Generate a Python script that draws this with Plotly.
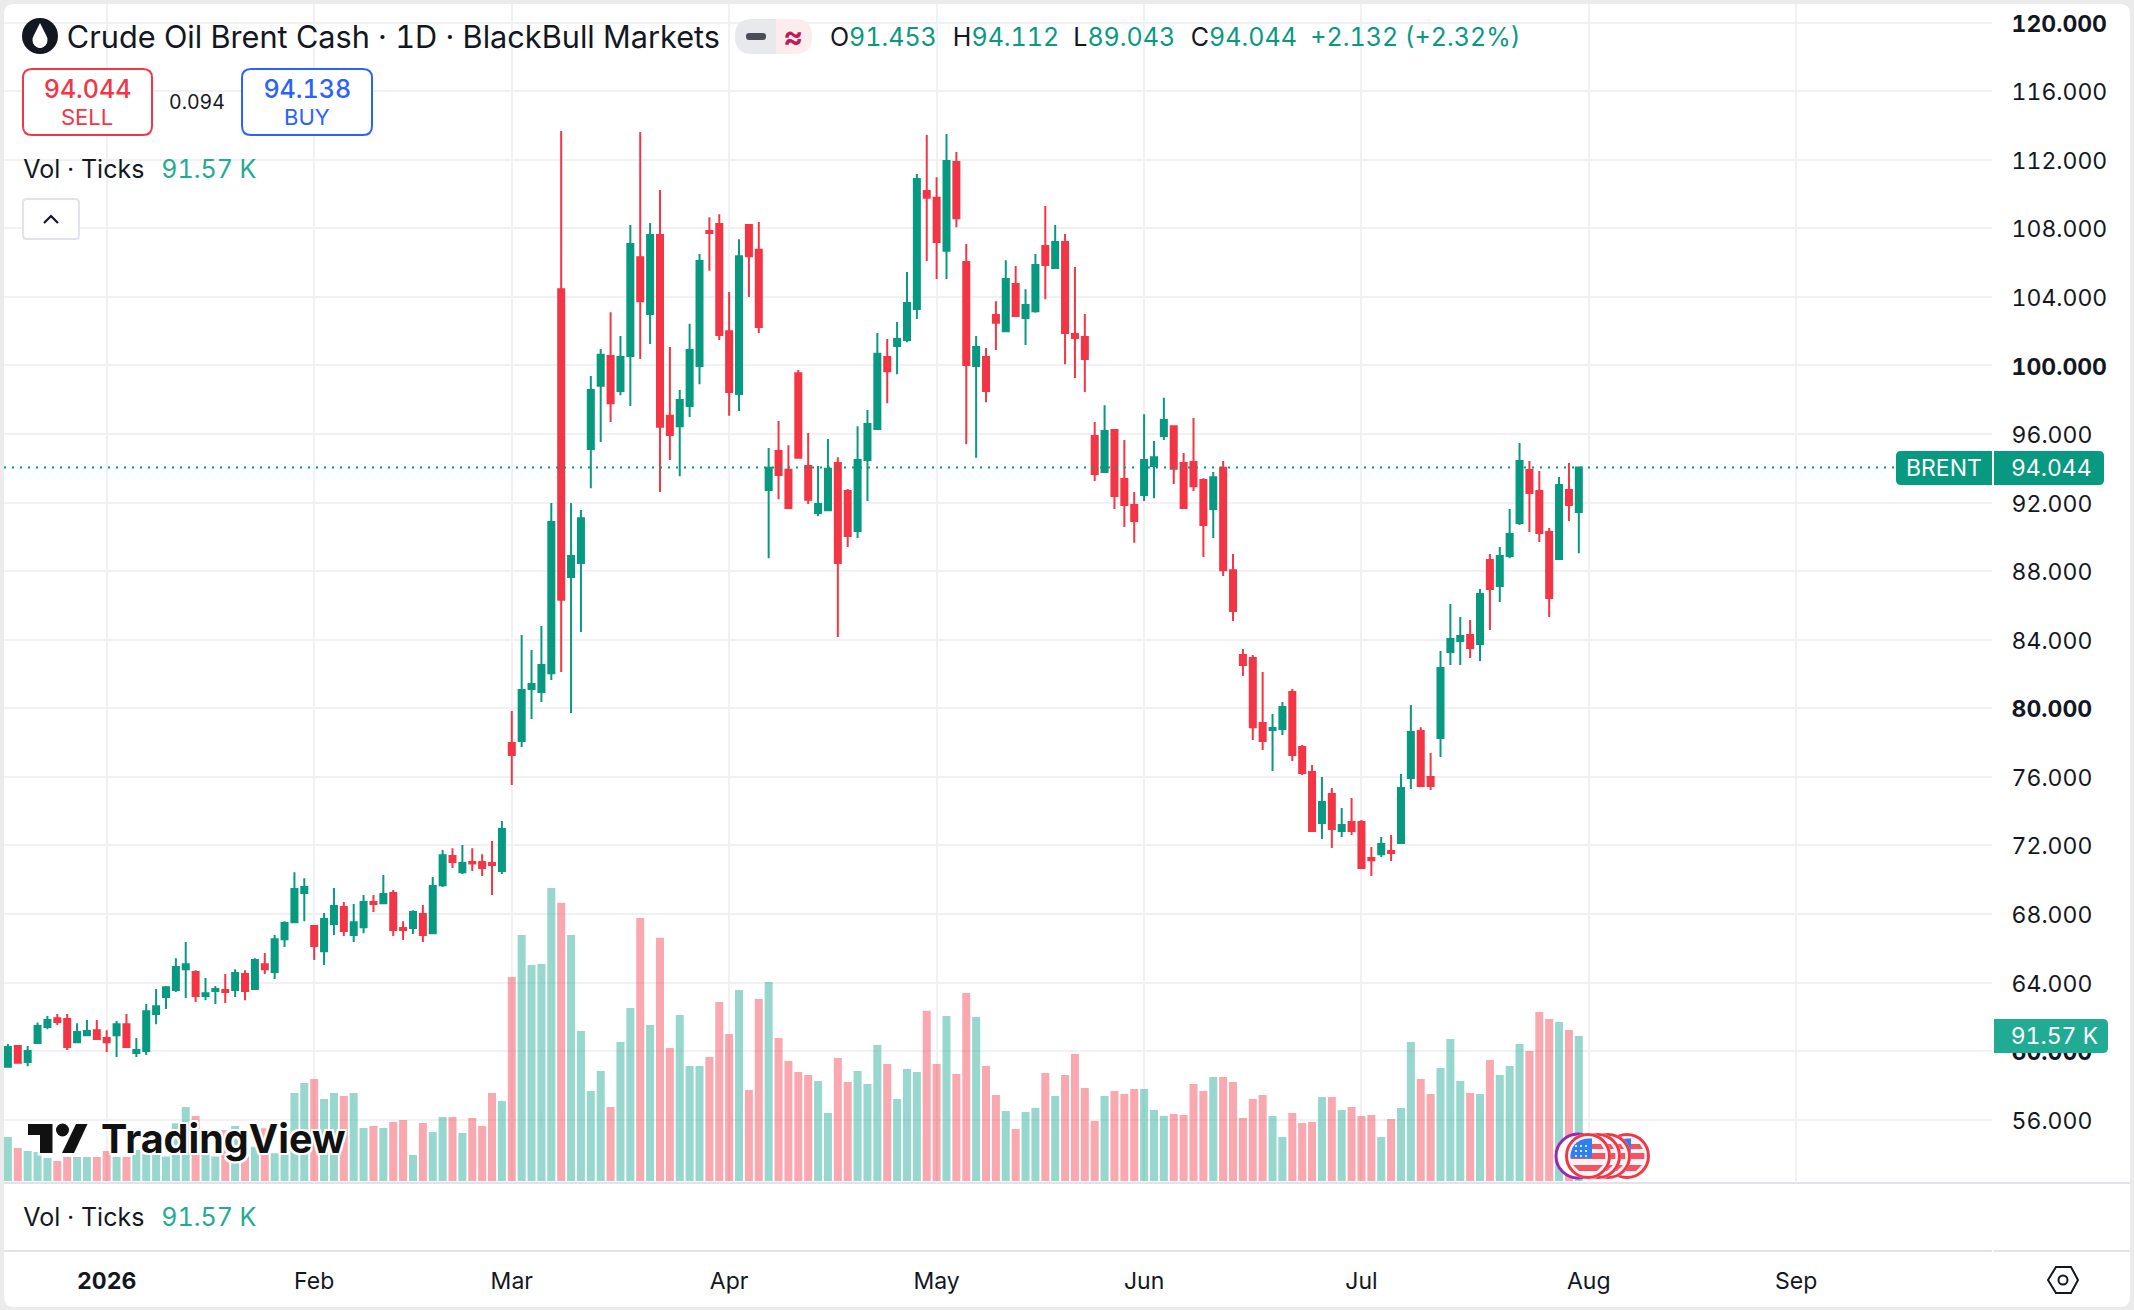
import numpy as np
import plotly.graph_objects as go

W, H = 2134, 1310

opens = [59.08, 60.29, 59.36, 60.47, 61.40, 61.92, 61.87, 60.52, 60.93, 61.22,
         60.76, 60.93, 61.57, 59.88, 60.00, 62.16, 63.15, 63.56, 64.78, 64.61,
         63.21, 63.50, 63.56, 63.56, 64.49, 63.62, 65.07, 64.61, 66.53, 67.52,
         69.22, 67.29, 65.83, 67.41, 68.40, 66.77, 67.23, 68.69, 68.63, 69.22,
         67.18, 67.18, 67.99, 66.88, 69.68, 71.38, 70.44, 71.03, 71.03, 70.97,
         70.50, 77.97, 78.09, 81.12, 80.95, 82.05, 104.45, 87.66, 88.48, 95.13,
         98.81, 100.56, 98.51, 100.56, 106.32, 103.01, 107.61, 97.06, 96.46, 97.64,
         99.97, 107.85, 108.25, 102.00, 98.33, 108.19, 106.75, 92.74, 95.01, 93.91,
         99.55, 94.13, 91.39, 91.56, 94.31, 92.68, 90.35, 94.49, 96.30, 100.50,
         101.14, 101.48, 103.29, 110.18, 109.78, 106.69, 111.87, 106.04, 99.97, 100.50,
         102.95, 102.00, 104.76, 102.77, 103.17, 106.97, 105.68, 107.21, 101.84, 101.66,
         95.88, 93.79, 96.24, 93.38, 91.86, 92.44, 94.13, 95.88, 96.46, 94.31,
         94.37, 93.32, 91.62, 94.03, 88.06, 83.11, 82.93, 79.14, 78.73, 78.79,
         80.95, 77.74, 76.28, 73.30, 75.00, 72.84, 73.36, 73.36, 71.26, 71.49,
         71.67, 72.14, 75.93, 78.67, 75.99, 78.26, 83.28, 83.92, 84.27, 83.75,
         88.65, 87.13, 88.88, 90.81, 93.90, 92.67, 90.28, 88.71, 92.73, 91.453]
highs = [60.41, 60.35, 60.29, 61.67, 62.04, 62.16, 62.16, 61.63, 61.81, 61.81,
         61.22, 61.75, 62.16, 60.76, 62.74, 63.62, 63.79, 65.42, 66.36, 64.72,
         64.26, 63.79, 64.49, 64.78, 64.72, 65.42, 65.72, 66.77, 67.58, 70.44,
         70.09, 67.29, 68.05, 69.51, 68.69, 68.58, 69.10, 69.10, 70.27, 69.39,
         67.58, 68.22, 68.52, 70.15, 71.73, 71.84, 72.02, 71.84, 71.49, 72.25,
         73.42, 79.84, 84.27, 83.40, 84.80, 91.98, 113.68, 91.98, 91.57, 99.39,
         100.96, 103.11, 101.72, 108.19, 113.62, 108.31, 110.24, 101.08, 98.57, 102.43,
         106.50, 108.65, 108.83, 104.29, 107.37, 108.25, 108.37, 95.19, 96.76, 95.35,
         99.73, 96.06, 94.13, 95.71, 94.65, 92.80, 96.46, 97.40, 101.90, 101.54,
         102.53, 105.46, 111.17, 113.44, 110.98, 113.50, 112.45, 107.09, 101.72, 101.02,
         103.75, 106.14, 105.80, 104.45, 106.50, 109.30, 108.19, 107.67, 105.74, 103.01,
         96.70, 97.68, 96.24, 95.65, 92.62, 97.16, 95.59, 98.11, 96.46, 94.89,
         96.94, 93.42, 93.79, 94.43, 89.00, 83.46, 83.11, 82.11, 79.66, 80.36,
         81.12, 77.85, 76.69, 75.99, 75.35, 74.18, 74.76, 73.48, 71.90, 72.49,
         72.60, 76.16, 80.19, 78.90, 77.39, 83.34, 86.08, 85.32, 85.15, 86.96,
         89.00, 89.41, 91.62, 95.47, 94.42, 93.84, 90.52, 93.49, 94.31, 94.112]
lows = [59.08, 59.32, 59.12, 60.47, 61.28, 61.52, 60.06, 60.52, 60.93, 60.70,
        59.94, 59.65, 60.23, 59.65, 59.77, 61.57, 62.45, 63.44, 63.09, 62.86,
        62.97, 62.74, 62.80, 63.15, 62.97, 63.56, 64.49, 64.20, 66.07, 67.47,
        67.58, 65.31, 65.02, 66.77, 66.71, 66.36, 66.88, 68.11, 68.58, 66.71,
        66.48, 66.83, 66.36, 66.88, 69.57, 70.68, 70.33, 70.50, 70.21, 69.10,
        70.33, 75.52, 77.74, 79.37, 80.36, 81.65, 82.11, 79.72, 84.45, 92.84,
        95.53, 96.70, 98.27, 97.64, 100.38, 101.26, 92.62, 94.49, 93.54, 97.00,
        98.91, 105.52, 101.48, 97.06, 97.34, 103.99, 101.90, 88.76, 92.20, 91.62,
        94.61, 91.92, 91.21, 91.52, 84.16, 89.41, 89.93, 92.10, 96.30, 97.80,
        99.49, 101.36, 102.71, 106.10, 105.04, 105.04, 108.07, 95.41, 94.61, 97.86,
        100.90, 102.00, 102.89, 101.20, 103.07, 103.87, 105.68, 100.07, 99.27, 98.45,
        93.26, 93.79, 91.62, 90.57, 89.65, 92.10, 92.26, 95.65, 93.08, 91.68,
        92.68, 88.82, 89.93, 87.72, 85.09, 81.88, 78.15, 77.56, 76.34, 78.44,
        76.92, 76.10, 72.84, 72.37, 71.85, 72.49, 72.60, 70.68, 70.21, 71.32,
        71.09, 72.08, 75.29, 75.46, 75.23, 77.15, 82.52, 82.52, 82.93, 82.76,
        84.56, 86.20, 88.76, 90.69, 90.28, 89.70, 85.32, 88.71, 90.92, 89.043]
closes = [60.23, 59.32, 60.00, 61.46, 61.81, 61.69, 60.23, 61.11, 61.17, 60.70,
          60.52, 61.57, 60.23, 60.06, 62.33, 62.62, 63.73, 64.90, 65.07, 63.21,
          63.38, 63.62, 63.44, 64.55, 63.50, 65.31, 64.78, 66.53, 67.47, 69.45,
          69.57, 66.13, 67.70, 68.46, 67.00, 67.52, 68.69, 68.58, 69.16, 67.06,
          67.06, 68.11, 66.77, 69.63, 71.43, 71.03, 70.97, 70.95, 70.68, 70.85,
          72.95, 77.27, 81.06, 81.41, 82.52, 90.87, 86.33, 88.88, 91.09, 98.57,
          100.62, 97.80, 100.50, 107.09, 103.75, 107.61, 96.42, 95.94, 97.99, 100.90,
          106.10, 107.73, 101.78, 98.45, 106.38, 106.38, 102.24, 94.03, 93.61, 91.68,
          94.61, 92.16, 91.92, 93.97, 88.48, 90.05, 94.49, 96.58, 100.68, 99.67,
          101.54, 103.65, 110.88, 109.78, 107.21, 111.93, 108.59, 100.03, 101.08, 98.51,
          102.49, 105.04, 102.89, 103.53, 105.86, 105.86, 107.21, 101.90, 101.60, 100.38,
          93.67, 96.18, 92.38, 91.86, 90.93, 94.49, 94.65, 96.82, 93.97, 91.68,
          92.96, 90.69, 93.48, 88.06, 85.67, 82.52, 78.90, 78.09, 78.85, 80.07,
          77.27, 76.22, 72.84, 74.53, 72.95, 73.19, 72.84, 70.68, 71.14, 72.08,
          71.55, 75.35, 78.61, 75.46, 75.46, 82.35, 84.04, 84.21, 83.51, 86.66,
          86.96, 88.88, 90.17, 94.42, 92.56, 90.22, 86.43, 93.02, 91.86, 94.044]
# tick volume, thousands
ticks_k = [27.8, 20.8, 18.9, 18.3, 14.5, 12.6, 15.2, 15.2, 15.2, 15.2,
           18.9, 15.2, 15.2, 19.6, 17.5, 16.4, 15.4, 36.4, 46.7, 41.0,
           17.5, 15.4, 32.2, 34.7, 15.4, 21.7, 33.3, 17.5, 17.5, 55.6,
           61.9, 64.4, 51.8, 55.6, 53.7, 55.6, 33.5, 34.7, 33.5, 37.3,
           38.5, 16.4, 36.6, 30.9, 40.4, 40.4, 30.3, 39.8, 34.7, 55.6,
           50.5, 128.8, 155.3, 136.4, 137.0, 185.0, 175.6, 155.3, 94.7, 56.8,
           69.5, 46.7, 87.8, 109.2, 166.1, 98.5, 153.5, 84.0, 104.8, 72.6,
           72.6, 78.3, 113.0, 92.8, 120.6, 57.5, 114.9, 125.7, 90.3, 75.8,
           68.8, 66.9, 63.2, 42.9, 77.7, 62.5, 69.5, 61.3, 85.9, 73.9,
           51.8, 70.7, 68.8, 107.4, 73.9, 104.2, 67.6, 118.7, 103.6, 72.6,
           54.3, 44.2, 32.8, 43.6, 46.1, 68.2, 53.7, 66.9, 80.2, 58.7,
           37.9, 53.7, 56.8, 54.9, 58.1, 58.1, 44.8, 41.0, 42.3, 41.7,
           61.3, 56.8, 65.7, 65.7, 62.5, 39.8, 51.8, 54.3, 41.0, 27.8,
           42.9, 36.6, 37.3, 53.0, 53.0, 44.8, 46.7, 41.0, 41.7, 27.8,
           39.2, 46.1, 87.8, 64.4, 54.9, 71.4, 89.7, 63.2, 55.6, 54.9,
           76.4, 66.9, 72.6, 86.5, 82.1, 106.7, 102.3, 100.4, 95.4, 91.57]

month_bars = [10, 31, 51, 73, 94, 115, 137, 160, 181]
month_labels = ["<b>2026</b>", "Feb", "Mar", "Apr", "May", "Jun", "Jul", "Aug", "Sep"]
price_ticks = list(range(56, 121, 4))
bold_prices = [60, 80, 100, 120]

GREEN = "#089981"
RED = "#F23645"
BLUE = "#2962FF"
INK = "#131722"
VOL_GREEN = "#22AB94"
LINE = "#E0E3EB"
FONT = "Inter"


# everything outside the plot is placed in screen pixels
def fx(x):
    return x / W


def fy(y):
    return 1 - y / H


def box_path(x0, y0, x1, y1, r=0, rl=None, rr=None):
    rl = r if rl is None else rl
    rr = r if rr is None else rr
    return (f"M{fx(x0 + rl)},{fy(y0)} L{fx(x1 - rr)},{fy(y0)} Q{fx(x1)},{fy(y0)} {fx(x1)},{fy(y0 + rr)} "
            f"L{fx(x1)},{fy(y1 - rr)} Q{fx(x1)},{fy(y1)} {fx(x1 - rr)},{fy(y1)} L{fx(x0 + rl)},{fy(y1)} "
            f"Q{fx(x0)},{fy(y1)} {fx(x0)},{fy(y1 - rl)} L{fx(x0)},{fy(y0 + rl)} Q{fx(x0)},{fy(y0)} {fx(x0 + rl)},{fy(y0)} Z")


def poly_path(points, close=True):
    s = "M" + " L".join(f"{fx(a)},{fy(b)}" for a, b in points)
    return s + (" Z" if close else "")


shapes = []
notes = []


def add_shape(path, fill="rgba(0,0,0,0)", line=None, lw=0, layer="above"):
    shapes.append(dict(type="path", path=path, xref="paper", yref="paper", fillcolor=fill,
                       line=dict(color=line or "rgba(0,0,0,0)", width=lw), layer=layer))


def add_circle(cx, cy, r, fill, line=None, lw=0):
    shapes.append(dict(type="circle", xref="paper", yref="paper", x0=fx(cx - r), x1=fx(cx + r),
                       y0=fy(cy + r), y1=fy(cy - r), fillcolor=fill,
                       line=dict(color=line or "rgba(0,0,0,0)", width=lw), layer="above"))


def add_text(x, y, text, size=25, color=INK, anchor="left", **font):
    notes.append(dict(x=fx(x), y=fy(y), xref="paper", yref="paper", text=text, showarrow=False,
                      xanchor=anchor, yanchor="middle", borderpad=0,
                      font=dict(family=FONT, size=size, color=color, **font)))


def add_flag(cx, cy, r=21.5):
    add_circle(cx, cy, r + 1.5, "#FFFFFF")
    add_circle(cx, cy, r, "#F5F5F7", RED, 3)
    inner = r - 4
    for top, bot in [(-12, -7), (-3, 3), (9, 15)]:
        w1, w2 = (inner ** 2 - top ** 2) ** 0.5, (inner ** 2 - bot ** 2) ** 0.5
        add_shape(poly_path([(cx - w1, cy + top), (cx + w1, cy + top), (cx + w2, cy + bot), (cx - w2, cy + bot)]),
                  fill="#F7525F")
    angles = np.linspace(np.pi, 1.5 * np.pi, 8)
    arc = [(cx + inner * np.cos(a), cy + inner * np.sin(a)) for a in angles]
    add_shape(poly_path([(cx + 4, cy + 2), (cx - inner, cy + 2)] + arc + [(cx + 4, cy - inner)]), fill="#2E7FF0")
    for dx in (-12, -7, -2):
        for dy in (-10, -5, 0):
            add_circle(cx + dx, cy + dy, 1.1, "#FFFFFF")


# card on the grey page
add_shape(box_path(4, 4, 2130, 1307, 10), fill="#FFFFFF", layer="below")

# pane separators
for y0, x0, x1 in [(1183, 4, 2130), (1251, 4, 1992), (1251, 1994, 2130)]:
    add_shape(poly_path([(x0, y0), (x1, y0)], close=False), line=LINE, lw=2, layer="below")

# last price line and its labels
shapes.append(dict(type="line", xref="paper", yref="y", x0=fx(4), x1=fx(1896), y0=closes[-1], y1=closes[-1],
                   line=dict(color=GREEN, width=2, dash="2px,6px"), layer="above"))
add_shape(box_path(1896, 451, 1992, 485, rl=5), fill=GREEN)
add_shape(box_path(1994, 451, 2104, 485, rr=5), fill=GREEN)
add_text(1944, 468, "BRENT", 23, "#FFFFFF", "center")
add_text(2051, 468, f"{closes[-1]:.3f}", 23, "#FFFFFF", "center")
add_shape(box_path(1994, 1019, 2108, 1053, rr=5), fill=VOL_GREEN)
add_text(2014, 1036, f"{ticks_k[-1]:.2f} K", 23, "#FFFFFF")

# symbol logo and title
add_circle(40, 36, 18, INK)
add_shape("M" + " L".join(f"{fx(40 + 7.5 * np.sin(t))},{fy(40 + 8 * np.cos(t))}" for t in np.linspace(-2.1, 2.1, 14))
          + f" L{fx(40)},{fy(23)} Z", fill="#FFFFFF")
add_text(68, 37, "Crude Oil Brent Cash · 1D · BlackBull Markets", 30.7)

# market status pills
add_shape(box_path(735, 19, 776, 54, rl=17), fill="#E8E9EC")
add_shape(box_path(776, 19, 812, 54, rr=17), fill="#FDECEE")
add_shape(box_path(746, 33, 766, 40, 3), fill="#4A4E5A")
add_text(793, 36, "≈", 30, "#C2185B", "center", weight=700)

# OHLC readout
for x, name, value in [(833, "O", opens[-1]), (960, "H", highs[-1]), (1074, "L", lows[-1]), (1191, "C", closes[-1])]:
    add_text(x, 37, f"{name}<span style='color:{GREEN}'>{value:.3f}</span>", 25)
add_text(1317, 37, "+2.132 (+2.32%)", 25, GREEN)

# sell / buy
add_shape(box_path(23, 69, 152, 135, 9), fill="#FFFFFF", line=RED, lw=2)
add_shape(box_path(242, 69, 372, 135, 9), fill="#FFFFFF", line=BLUE, lw=2)
add_text(87, 89, "94.044", 25, RED, "center", weight=500)
add_text(87, 117, "SELL", 22, RED, "center")
add_text(307, 89, "94.138", 25, BLUE, "center", weight=500)
add_text(307, 117, "BUY", 22, BLUE, "center")
add_text(197, 102, "0.094", 19.5, INK, "center")

# volume legends
for y in (169, 1217):
    add_text(22, y, "Vol · Ticks", 25)
    add_text(165, y, f"{ticks_k[-1]:.2f} K", 25, VOL_GREEN)

# collapse button
add_shape(box_path(23, 199, 79, 239, 4), fill="#FFFFFF", line=LINE, lw=2)
add_shape(poly_path([(44, 223), (51, 216), (58, 223)], close=False), line=INK, lw=2.2)

# TradingView mark
mark = [
    [(28, 1124), (52.5, 1124), (52.5, 1153), (40, 1153), (40, 1135), (28, 1135)],
    [(76, 1124), (87.5, 1124), (74, 1153), (62, 1153)],
]
for pts in mark:
    add_shape(poly_path(pts), fill="#FFFFFF", line="#FFFFFF", lw=5)
add_circle(62.5, 1130, 8.5, "#FFFFFF")
for pts in mark:
    add_shape(poly_path(pts), fill="#111111")
add_circle(62.5, 1130, 6.5, "#111111")
halo = ",".join(f"{a}px {b}px 0 #fff" for a in (-2, 0, 2) for b in (-2, 0, 2))
add_text(100, 1139, "TradingView", 39.5, "#111111", weight=700, shadow=halo)

# economic event badges
add_flag(1627, 1156)
add_flag(1608, 1156)
add_flag(1598, 1156)
add_circle(1578, 1156, 22, "#FFFFFF", "#9C27B0", 3)
add_flag(1588, 1156)

# settings hexagon
add_shape(poly_path([(2048, 1280), (2056, 1267), (2071, 1267), (2078, 1280), (2071, 1293), (2056, 1293)]),
          line=INK, lw=2)
add_circle(2063, 1280, 4.5, "#FFFFFF", INK, 2)

bars = list(range(len(closes)))
vol_colors = ["rgba(34,171,148,0.47)" if c >= o else "rgba(242,54,69,0.43)" for o, c in zip(opens, closes)]

fig = go.Figure()
fig.add_trace(go.Candlestick(
    x=bars, open=opens, high=highs, low=lows, close=closes,
    whiskerwidth=0,
    increasing=dict(fillcolor=GREEN, line=dict(color=GREEN, width=2)),
    decreasing=dict(fillcolor=RED, line=dict(color=RED, width=2)),
    yaxis="y",
))
fig.add_trace(go.Bar(x=bars, y=ticks_k, width=0.81, marker=dict(color=vol_colors, line=dict(width=0)), yaxis="y2"))

fig.update_layout(
    width=W, height=H,
    margin=dict(l=0, r=0, t=0, b=0),
    paper_bgcolor="#EBEBEB",
    plot_bgcolor="rgba(0,0,0,0)",
    showlegend=False,
    boxgap=0.22, boxgroupgap=0.22,
    hovermode=False,
    font=dict(family=FONT, color=INK),
    shapes=shapes,
    annotations=notes,
    xaxis=dict(
        domain=[fx(4), fx(1992)],
        range=[-0.395, 200.82],
        rangeslider=dict(visible=False),
        tickmode="array", tickvals=month_bars, ticktext=month_labels,
        tickfont=dict(family=FONT, size=23, color=INK),
        ticks="outside", ticklen=78, tickcolor="rgba(0,0,0,0)",
        gridcolor="#F1F1F3", gridwidth=1.5,
        showline=False, zeroline=False, automargin=False, tickangle=0,
    ),
    yaxis=dict(
        domain=[fy(1182.7), fy(4)],
        range=[52.32, 121.09],
        side="right",
        tickmode="array", tickvals=price_ticks,
        ticktext=[f"<b>{p}.000</b>" if p in bold_prices else f"{p}.000" for p in price_ticks],
        tickfont=dict(family=FONT, size=23, color=INK),
        ticks="outside", ticklen=14, tickcolor="rgba(0,0,0,0)",
        ticklabelshift=1,
        gridcolor="#F1F1F3", gridwidth=1.5,
        showline=False, zeroline=False, automargin=False,
    ),
    yaxis2=dict(
        overlaying="y", side="left", range=[-1.07, 743], visible=False,
        showgrid=False, zeroline=False,
    ),
)

# tabular digits like the original, redraw so that text gets measured with them
page_fix = """
document.body.style.margin='0';document.body.style.overflow='hidden';
var st=document.createElement('style');
st.textContent='text{font-feature-settings:"tnum" 1;font-variant-numeric:tabular-nums}';
document.head.appendChild(st);
Plotly.redraw(document.getElementById('{plot_id}'));
"""
fig.write_html("out.html", config={"displayModeBar": False}, post_script=page_fix)
